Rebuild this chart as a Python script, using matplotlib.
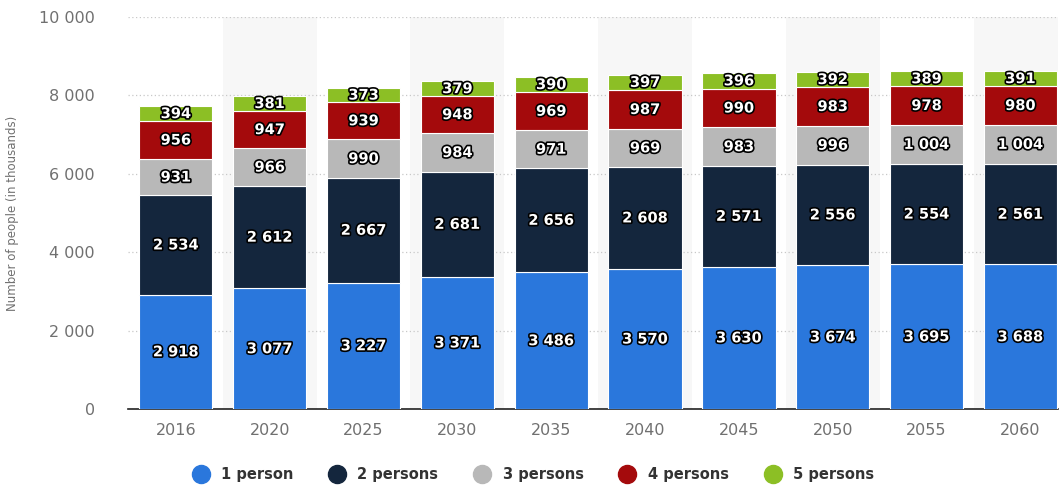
import matplotlib.pyplot as plt
import matplotlib.patheffects as pe
import numpy as np

plt.rcParams["font.family"] = ["DejaVu Sans"]

years = ["2016", "2020", "2025", "2030", "2035", "2040", "2045", "2050", "2055", "2060"]
one_person = [2918, 3077, 3227, 3371, 3486, 3570, 3630, 3674, 3695, 3688]
two_persons = [2534, 2612, 2667, 2681, 2656, 2608, 2571, 2556, 2554, 2561]
three_persons = [931, 966, 990, 984, 971, 969, 983, 996, 1004, 1004]
four_persons = [956, 947, 939, 948, 969, 987, 990, 983, 978, 980]
five_persons = [394, 381, 373, 379, 390, 397, 396, 392, 389, 391]

series = [
    ("1 person", one_person, "#2a77dc"),
    ("2 persons", two_persons, "#14263d"),
    ("3 persons", three_persons, "#b8b8b8"),
    ("4 persons", four_persons, "#a40a0c"),
    ("5 persons", five_persons, "#8cbf25"),
]


def fmt(v):
    return f"{v:,}".replace(",", " ")


fig = plt.figure(figsize=(10.6, 4.88), dpi=100)
ax = fig.add_axes([128 / 1060, 1 - 409 / 488, 930 / 1060, 392 / 488])

x = np.arange(len(years))
# alternating light background bands
for i in x:
    if i % 2 == 1:
        ax.axvspan(i - 0.5, i + 0.5, color="#f7f7f7", zorder=0, lw=0)

bottom = np.zeros(len(years))
stroke = [pe.withStroke(linewidth=2.4, foreground="black")]
for name, vals, color in series:
    vals = np.array(vals)
    ax.bar(x, vals, 0.78, bottom=bottom, color=color, edgecolor="white",
           linewidth=0.8, label=name, zorder=3)
    for xi, b, v in zip(x, bottom, vals):
        ax.text(xi, b + v / 2, fmt(int(v)), ha="center", va="center",
                color="white", fontsize=10.5, fontweight="bold",
                path_effects=stroke, zorder=4)
    bottom += vals

ax.set_xlim(-0.51, 9.4)
ax.set_ylim(0, 10000)
ax.set_yticks(range(0, 10001, 2000))
ax.set_yticklabels([fmt(v) for v in range(0, 10001, 2000)])
ax.set_xticks(x)
ax.set_xticklabels(years)
ax.tick_params(axis="both", length=0, colors="#707070", labelsize=11.5)
ax.tick_params(axis="x", pad=10)
ax.tick_params(axis="y", pad=24)
ax.yaxis.grid(True, linestyle=(0, (1, 2)), color="#c8c8c8", linewidth=0.9, zorder=1)
ax.set_axisbelow(True)
for s in ["top", "right", "left"]:
    ax.spines[s].set_visible(False)
ax.spines["bottom"].set_color("#222222")
ax.spines["bottom"].set_linewidth(1.2)
ax.set_ylabel("Number of people (in thousands)", fontsize=8.5, color="#707070", labelpad=14)

handles = [plt.Line2D([], [], marker="o", linestyle="", markersize=13,
                      markerfacecolor=c, markeredgecolor=c) for _, _, c in series]
fig.legend(handles, [s[0] for s in series], loc="center", ncol=5,
           bbox_to_anchor=(0.5, 1 - 475 / 488), frameon=False,
           prop={"size": 10.5, "weight": "bold"}, labelcolor="#333333",
           handletextpad=0.4, columnspacing=2.0)

fig.savefig("out.png", dpi=100)
